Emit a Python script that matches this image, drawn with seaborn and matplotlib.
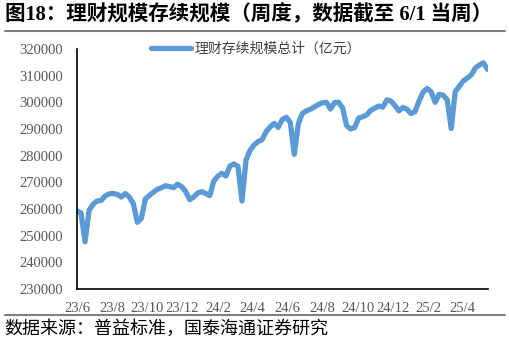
import matplotlib
matplotlib.use("Agg")
import matplotlib.pyplot as plt
import matplotlib.dates as mdates
import matplotlib.lines as mlines
import numpy as np
import pandas as pd
import seaborn as sns

sns.set_theme(style="white")
plt.rcParams['font.family'] = ['Liberation Serif', 'Noto Sans CJK SC', 'DejaVu Sans']

# ---- data (weekly) ----
start_date = "2023-06-18"
end_date = "2025-06-01"
values = [
    259300, 258500, 247700, 259500, 261800, 263000, 263200, 264900, 265700, 265800,
    265500, 264500, 265800, 264500, 262000, 255000, 256500, 263800, 265100, 266300,
    267400, 268000, 268700, 268400, 268000, 269300, 268400, 266600, 263500, 264500,
    266000, 266500, 265800, 265000, 270500, 272300, 273400, 272400, 276100, 276900,
    276000, 263000, 278400, 282000, 284000, 285300, 286000, 289000, 290800, 292100,
    290600, 293500, 294400, 292500, 280500, 292000, 295800, 296800, 297400, 298300,
    299200, 299800, 300000, 297500, 299900, 300000, 298000, 291300, 290000, 290500,
    294100, 294600, 295300, 297000, 297800, 298600, 298200, 300900, 300500, 298800,
    296800, 298100, 297400, 295800, 296500, 300500, 303800, 305200, 304000, 300000,
    303000, 302700, 301000, 290200, 304000, 306000, 308000, 309100, 310300, 312900,
    314000, 314800, 312400,
]
series_name = "理财存续规模总计（亿元）"
tick_labels = ["23/6", "23/8", "23/10", "23/12", "24/2", "24/4", "24/6",
               "24/8", "24/10", "24/12", "25/2", "25/4"]
y_ticks = list(range(230000, 320001, 10000))

dates = pd.date_range(start_date, end_date, freq="W-SUN")
df = pd.DataFrame({"date": dates, "value": values})

W, H = 510, 343
fig = plt.figure(figsize=(W / 100, H / 100), dpi=100)
ax = fig.add_axes([77 / W, 1 - 289 / H, (488 - 77) / W, (289 - 49) / H])

blue = "#5B9BD5"
sns.lineplot(data=df, x="date", y="value", ax=ax, color=blue, linewidth=3.8,
             legend=False, solid_joinstyle="round", solid_capstyle="round")

ax.set_ylim(230000, 320000)
ax.set_xlim(dates[0], dates[-1] + pd.Timedelta(days=1))
ax.set_yticks(y_ticks)
ax.set_yticklabels([str(v) for v in y_ticks])

tick_dates = [pd.Timestamp(start_date) + pd.DateOffset(months=2 * i)
              for i in range(len(tick_labels))]
ax.set_xticks(tick_dates)
ax.set_xticklabels(tick_labels)

ax.set_xlabel("")
ax.set_ylabel("")
for s in ["top", "right"]:
    ax.spines[s].set_visible(False)
for s in ["left", "bottom"]:
    ax.spines[s].set_color("black")
    ax.spines[s].set_linewidth(1.2)
ax.tick_params(axis="both", direction="out", length=4, width=1.2,
               color="black", labelcolor="#595959", labelsize=10.5, pad=3)
ax.tick_params(axis="y", pad=6)
ax.tick_params(axis="x", pad=5)
ax.grid(False)

handle = mlines.Line2D([], [], color=blue, linewidth=3.8, solid_capstyle="round")
leg = ax.legend([handle], [series_name], loc="center",
                bbox_to_anchor=(0.435, 1.0), frameon=False,
                handlelength=2.9, handletextpad=0.2,
                prop={"family": ["Noto Sans CJK SC"], "size": 10})
for t in leg.get_texts():
    t.set_color("#404040")

# title and separators
fig.text(5 / W, 1 - 15 / H, "图18：理财规模存续规模（周度，数据截至 6/1 当周）",
         fontsize=14.8, fontweight="bold", ha="left", va="center",
         family=["Liberation Serif", "Noto Sans CJK SC"], color="black")
fig.add_artist(mlines.Line2D([5 / W, 505 / W], [1 - 31 / H, 1 - 31 / H],
                             color="#7F7F7F", linewidth=1.5))
fig.add_artist(mlines.Line2D([5 / W, 505 / W], [1 - 315 / H, 1 - 315 / H],
                             color="#7F7F7F", linewidth=1.5))
fig.text(4 / W, 1 - 329 / H, "数据来源：普益标准，国泰海通证券研究",
         fontsize=13, ha="left", va="center",
         family=["Noto Sans CJK SC"], color="black")

fig.savefig("out.png", dpi=100, facecolor="white")
